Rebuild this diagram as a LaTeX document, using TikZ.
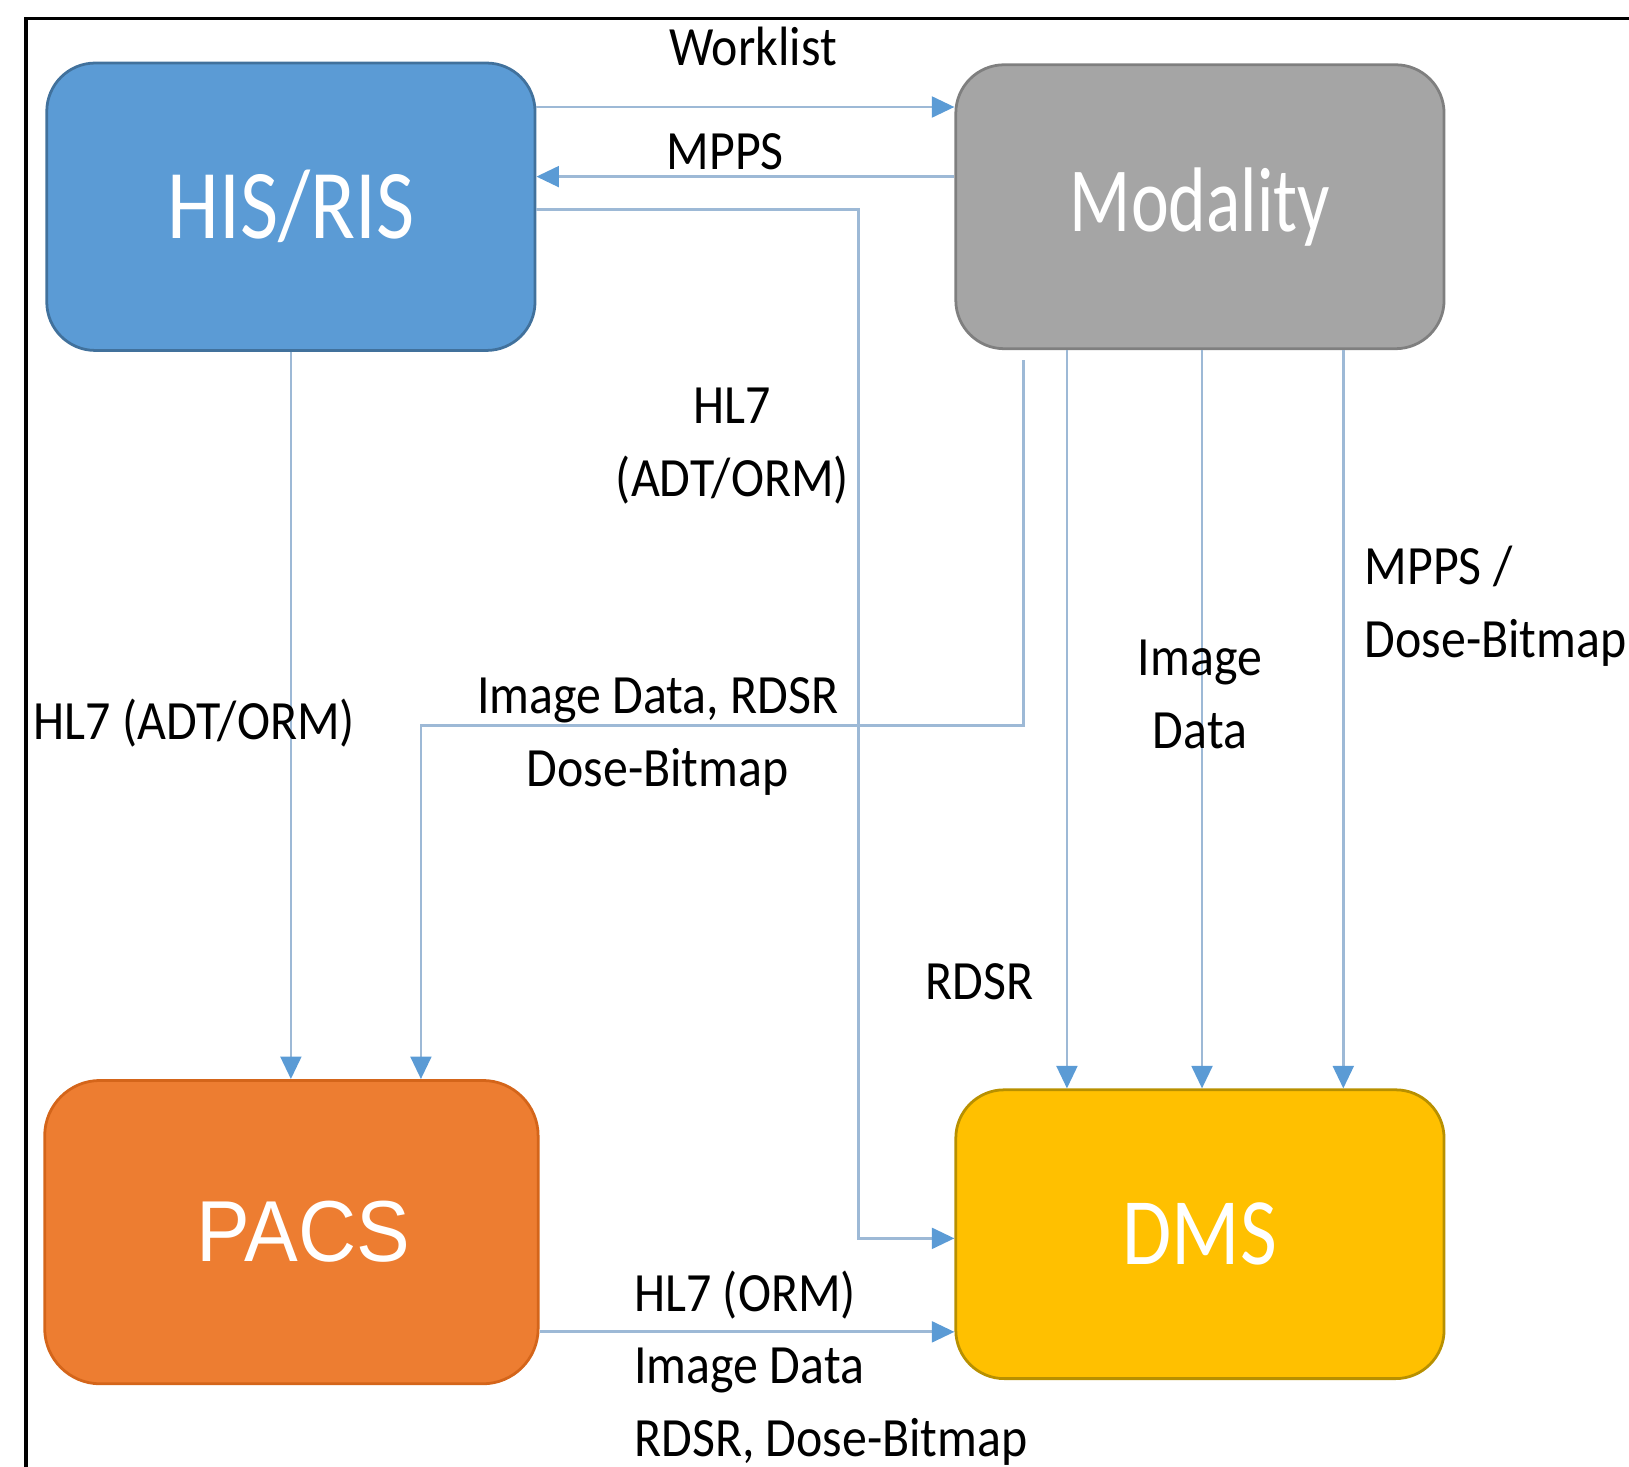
\documentclass[tikz,border=0pt]{standalone}
\usepackage{fontspec}
\setmainfont[FakeStretch=0.9]{Carlito}
\newfontfamily\boxfont[FakeStretch=0.84]{Carlito}
\newfontfamily\modfont[FakeStretch=0.78]{Carlito}
\newfontfamily\pacsfont[FakeStretch=0.93]{Liberation Sans}
\usetikzlibrary{arrows.meta}

\definecolor{hisblue}{HTML}{5B9BD5}
\definecolor{hisedge}{HTML}{41719C}
\definecolor{modgray}{HTML}{A5A5A5}
\definecolor{modedge}{HTML}{7F7F7F}
\definecolor{pacsorange}{HTML}{ED7D31}
\definecolor{pacsedge}{HTML}{D4651A}
\definecolor{dmsgold}{HTML}{FFC000}
\definecolor{dmsedge}{HTML}{B89000}
\definecolor{linkline}{HTML}{9DB9D6}
\definecolor{linktip}{HTML}{5B9BD5}

\tikzset{
  sysbox/.style={draw, line width=0.8pt, rounded corners=14pt, text=white,
    minimum width=141pt, minimum height=83pt, inner sep=0pt},
  link/.style={draw=linkline, line width=0.8pt,
    -{Triangle[length=6.5pt,width=6pt,color=linktip]}},
  lbl/.style={font=\fontsize{16}{21}\selectfont, align=center, anchor=base, inner sep=0pt},
}

\begin{document}
\begin{tikzpicture}[x=0.3pt,y=-0.3pt]
  \useasboundingbox (0,0) rectangle (1568,1412);
  \draw[line width=1pt] (25,1412) -- (25,18) -- (1568,18);

  % systems
  \node[sysbox, fill=hisblue, draw=hisedge, font=\boxfont\fontsize{28.5}{30}\selectfont] (hisris) at (280,199) {HIS/RIS};
  \node[sysbox, fill=modgray, draw=modedge, minimum height=82pt, font=\modfont\fontsize{26.5}{28}\selectfont] (modality) at (1155,199) {Modality};
  \node[sysbox, fill=pacsorange, draw=pacsedge, minimum width=142.5pt, minimum height=87.6pt, rounded corners=16pt, font=\pacsfont\fontsize{25}{27}\selectfont] (pacs) at (280.5,1186) {\hspace*{7pt}PACS};
  \node[sysbox, fill=dmsgold, draw=dmsedge, minimum height=83.4pt, font=\boxfont\fontsize{27.5}{29}\selectfont] (dms) at (1155,1188) {DMS};

  % links
  \draw[link] ([yshift=28.8pt]hisris.east) -- ([yshift=28.8pt]modality.west);
  \draw[link] ([yshift=8.7pt]modality.west) -- ([yshift=8.7pt]hisris.east);
  \draw[link] ([yshift=-0.9pt]hisris.east) -- ++(310,0) |- ([yshift=-1.2pt]dms.west);
  \draw[link] (hisris.south) -- (hisris.south |- pacs.north);
  \draw[link] ([xshift=-51pt,yshift=-3pt]modality.south) -- ++(0,351) -| ([xshift=37.4pt]pacs.north);
  \foreach \dx in {-38.4,0.6,41.4}
    \draw[link] ([xshift=\dx pt]modality.south) -- ([xshift=\dx pt]dms.north);
  \draw[link] ([yshift=-28.8pt]pacs.east) -- ([yshift=-28.2pt]dms.west);

  % labels (multi-line ones sit on their last line)
  \node[lbl] (worklist) at (725,63) {Worklist};
  \node[lbl] (mpps) at (698,163) {MPPS};
  \node[lbl] (hlseven) at (705,478) {HL7\\(ADT/ORM)};
  \node[lbl] (hlsevenpacs) at (187,712) {HL7 (ADT/ORM)};
  \node[lbl] (imgpacs) at (633,757) {Image Data, RDSR\\Dose-Bitmap};
  \node[lbl] (rdsr) at (943,962) {RDSR};
  \node[lbl] (imgdms) at (1155,720) {Image\\Data};
  \node[lbl, align=left, anchor=base west] (mppsdms) at (1313,633) {MPPS /\\Dose-Bitmap};
  \node[lbl, align=left, anchor=base west] (pacsdms) at (610,1402) {HL7 (ORM)\\Image Data\\RDSR, Dose-Bitmap};
\end{tikzpicture}
\end{document}
